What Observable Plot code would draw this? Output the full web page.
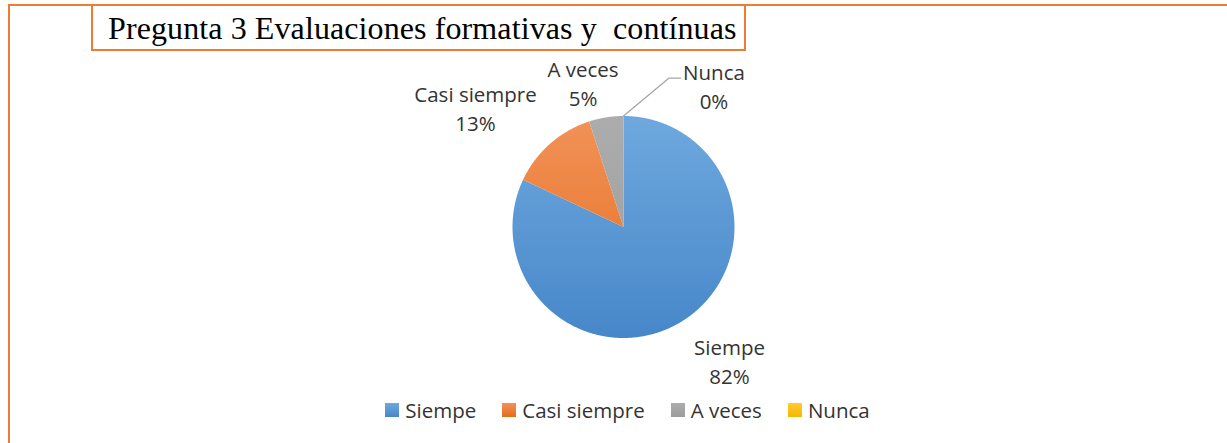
<!DOCTYPE html>
<html>
<head>
<meta charset="utf-8">
<script src="https://cdn.jsdelivr.net/npm/d3@7"></script>
<script src="https://cdn.jsdelivr.net/npm/@observablehq/plot@0.6"></script>
<style>
  html, body { margin: 0; padding: 0; background: #fff; }
  #wrap { position: relative; width: 1227px; height: 443px; overflow: hidden; background: #fff; }
  #chart { position: absolute; left: 0; top: 0; }
  #outer { position: absolute; left: 8px; top: 4px; width: 1400px; height: 600px; border: 2.5px solid #ED7D31; box-sizing: border-box; }
  #title { position: absolute; left: 91px; top: 4px; width: 655px; height: 47px; box-sizing: border-box;
           border: 2.5px solid #ED7D31; background: #fff; font-family: "Liberation Serif", "Times New Roman", serif;
           font-size: 32px; letter-spacing: 0.1px; color: #000; white-space: pre; padding-left: 15px; line-height: 45px; }
  #legend { position: absolute; top: 396px; left: 0; width: 1255px; display: flex; justify-content: center; gap: 26px;
            font-family: "Open Sans", sans-serif; font-size: 20.5px; color: #333; }
  #legend .item { display: flex; align-items: center; gap: 6px; }
  #legend .sw { width: 14px; height: 14px; display: inline-block; }
</style>
</head>
<body>
<div id="wrap">
  <div id="chart"></div>
  <div id="outer"></div>
  <div id="title">Pregunta 3 Evaluaciones formativas y  contínuas</div>
  <div id="legend"></div>
</div>
<script>
// ---- data ----
const categories = ["Siempe", "Casi siempre", "A veces", "Nunca"];
const percentages = [82, 13, 5, 0];

// ---- styles ----
const colorsTop = ["#6EA8DE", "#F29258", "#ACACAC", "#FFCB2E"];
const colorsBottom = ["#4787C9", "#E36D1E", "#9C9C9C", "#F5B800"];

// ---- label layout (in pie-radius units, relative to pie centre) ----
const labelX = [0.955, -1.333, -0.365, 0.815];
const labelY = [-1.198, 1.079, 1.305, 1.277];
const leaderElbow = [0.408, 1.341];
const leaderEnd = [0.514, 1.341];

const rows = categories.map((c, i) => ({cat: c, value: percentages[i]}));
const arcs = d3.pie().sort(null).value(d => d.value)(rows);

const slicePoints = arcs.filter(s => s.endAngle > s.startAngle).flatMap(s => {
  const pts = [{cat: s.data.cat, x: 0, y: 0}];
  const n = Math.max(2, Math.ceil((s.endAngle - s.startAngle) / 0.005));
  for (let i = 0; i <= n; i++) {
    const a = s.startAngle + (s.endAngle - s.startAngle) * i / n;
    pts.push({cat: s.data.cat, x: Math.sin(a), y: Math.cos(a)});
  }
  return pts;
});

const labels = rows.map((r, i) => ({
  lx: labelX[i], ly: labelY[i], text: `${r.cat}\n${r.value}%`
}));

const nunca = arcs[3];
const leader = [
  {x: Math.sin(nunca.startAngle), y: Math.cos(nunca.startAngle)},
  {x: leaderElbow[0], y: leaderElbow[1]},
  {x: leaderEnd[0], y: leaderEnd[1]}
];

const R = 111, cx = 623, cy = 226.5, W = 1227, H = 443;

const plot = Plot.plot({
  width: W, height: H, margin: 0,
  style: {background: "transparent", overflow: "visible"},
  x: {domain: [-cx / R, (W - cx) / R], axis: null},
  y: {domain: [-(H - cy) / R, cy / R], axis: null},
  color: {domain: categories, range: categories.map((c, i) => `url(#grad${i})`)},
  marks: [
    Plot.line(slicePoints, {x: "x", y: "y", z: "cat", fill: "cat", stroke: null, curve: "linear-closed"}),
    Plot.line(leader, {x: "x", y: "y", stroke: "#A6A6A6", strokeWidth: 1.3}),
    Plot.text(labels, {x: "lx", y: "ly", text: "text", fontSize: 20.5, lineHeight: 1.4,
      fill: "#333", fontFamily: "Open Sans", textAnchor: "middle"})
  ]
});

// gradients
const ys = plot.scale("y");
const NS = "http://www.w3.org/2000/svg";
const defs = document.createElementNS(NS, "defs");
categories.forEach((c, i) => {
  const g = document.createElementNS(NS, "linearGradient");
  g.setAttribute("id", `grad${i}`);
  g.setAttribute("gradientUnits", "userSpaceOnUse");
  g.setAttribute("x1", 0); g.setAttribute("x2", 0);
  g.setAttribute("y1", ys.apply(1)); g.setAttribute("y2", ys.apply(-1));
  [[0, colorsTop[i]], [1, colorsBottom[i]]].forEach(([o, col]) => {
    const s = document.createElementNS(NS, "stop");
    s.setAttribute("offset", o); s.setAttribute("stop-color", col);
    g.appendChild(s);
  });
  defs.appendChild(g);
});
plot.insertBefore(defs, plot.firstChild);
document.getElementById("chart").appendChild(plot);

// legend
const legend = document.getElementById("legend");
categories.forEach((c, i) => {
  const item = document.createElement("div");
  item.className = "item";
  const sw = document.createElement("span");
  sw.className = "sw";
  sw.style.background = `linear-gradient(${colorsTop[i]}, ${colorsBottom[i]})`;
  const t = document.createElement("span");
  t.textContent = c;
  item.appendChild(sw); item.appendChild(t);
  legend.appendChild(item);
});
</script>
</body>
</html>
